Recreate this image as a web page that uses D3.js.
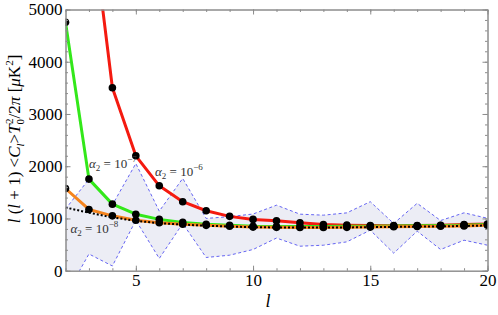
<!DOCTYPE html>
<html><head><meta charset="utf-8">
<script src="https://cdn.jsdelivr.net/npm/d3@7"></script>
<style>
html,body{margin:0;padding:0;background:#fff;}
svg{display:block;}
</style></head>
<body><svg id="c" width="498" height="315"></svg>
<script>
// multipoles
const ells = [2,3,4,5,6,7,8,9,10,11,12,13,14,15,16,17,18,19,20];
// alpha2 = 1e-6 (red)
const red = [16000,7150,3502,2199,1625,1321,1148,1040,982,954,916,885,872,865,862,865,870,882,892];
// alpha2 = 1e-7 (green)
const green = [4757,1753,1274,1082,982,925,890,868,852,847,845,846,849,853,857,861,866,872,882];
// alpha2 = 1e-8 (orange)
const orange = [1573,1172,1050,967,918,890,868,850,835,830,828,828,830,835,840,845,850,858,870];
// LCDM reference (black dotted)
const lcdm = [1210,1110,1020,955,910,882,862,845,832,828,826,826,828,833,838,843,849,856,866];
// error band (blue dashed)
const upper = [1180,1752,1260,2052,1140,1766,1000,1035,1085,1254,1082,1063,1107,1321,904,1290,960,1108,1003];
const lower = [-474,320,90,965,234,904,253,297,406,625,469,488,552,776,335,757,406,584,488];
// ticks
const xMajor = [5,10,15,20];
const xMinor = d3.range(2,21,1);
const yMajor = [0,1000,2000,3000,4000,5000];
const yMinor = d3.range(0,5001,200);

const FONT = '"Liberation Serif"';
const svg = d3.select("#c");
const L=65.5,R=487.5,T=9.5,B=270.7;
const x = d3.scaleLinear().domain([2,20]).range([L,R]);
const y = d3.scaleLinear().domain([0,5000]).range([B,T]);

svg.append("clipPath").attr("id","clip").append("rect")
  .attr("x",L).attr("y",T).attr("width",R-L).attr("height",B-T);

const g = svg.append("g").attr("clip-path","url(#clip)");
const idx = d3.range(ells.length);

g.append("path").datum(idx)
  .attr("d", d3.area().x(i=>x(ells[i])).y0(i=>y(lower[i])).y1(i=>y(upper[i])))
  .attr("fill","#ecedf5");

const line = arr => d3.line().x(i=>x(ells[i])).y(i=>y(arr[i]));
[upper,lower].forEach(a=>{
  g.append("path").datum(idx).attr("d",line(a))
   .attr("fill","none").attr("stroke","#6464f2").attr("stroke-width",1)
   .attr("stroke-dasharray","3,2.5");
});
[[red,"#f41a10"],[green,"#33e81a"],[orange,"#f5841f"]].forEach(([a,c])=>{
  g.append("path").datum(idx).attr("d",line(a))
   .attr("fill","none").attr("stroke",c).attr("stroke-width",3)
   .attr("stroke-linejoin","round");
});
g.append("path").datum(idx).attr("d",line(lcdm))
  .attr("fill","none").attr("stroke","#000").attr("stroke-width",2)
  .attr("stroke-dasharray","2,2");

[red,green,orange].forEach(a=>{
  g.selectAll(null).data(idx).enter().append("circle")
   .attr("cx",i=>x(ells[i])).attr("cy",i=>y(a[i])).attr("r",3.8).attr("fill","#000");
});

// frame axes
const fc = "#8c8c8c";
function ax(gen, tx, ty, vals, size, labels){
  const a = gen.tickValues(vals).tickSizeInner(-size).tickSizeOuter(0).tickPadding(3)
    .tickFormat(labels ? d3.format("d") : () => "");
  const s = svg.append("g").attr("transform",`translate(${tx},${ty})`).call(a);
  s.selectAll(".domain").attr("stroke",fc).attr("stroke-width",1);
  s.selectAll(".tick line").attr("stroke",fc);
  s.selectAll(".tick text").style("font-family",FONT).style("font-size","17px").attr("fill","#000");
  return s;
}
ax(d3.axisBottom(x), 0, B, xMinor, 2.5, false);
ax(d3.axisBottom(x), 0, B, xMajor, 5, true);
ax(d3.axisTop(x), 0, T, xMinor, 2.5, false);
ax(d3.axisTop(x), 0, T, xMajor, 5, false);
ax(d3.axisLeft(y), L, 0, yMinor, 2.5, false);
ax(d3.axisLeft(y), L, 0, yMajor, 5, true);
ax(d3.axisRight(y), R, 0, yMinor, 2.5, false);
ax(d3.axisRight(y), R, 0, yMajor, 5, false);

// annotations
function alphaLabel(px, py, exp){
  const t = svg.append("text").attr("x",px).attr("y",py).style("font-family",FONT)
    .style("font-size","13px").attr("fill","#333");
  t.append("tspan").attr("font-style","italic").text("α");
  t.append("tspan").style("font-size","9px").attr("dy",3).text("2");
  t.append("tspan").attr("dy",-3).text(" = 10");
  t.append("tspan").style("font-size","9px").attr("dy",-6).text("−"+exp);
}
alphaLabel(89,168,7);
alphaLabel(155,175.5,6);
alphaLabel(70.5,233,8);

// x label
svg.append("text").attr("x",268).attr("y",307).style("font-family",FONT).style("font-size","18px")
  .attr("font-style","italic").attr("text-anchor","middle").text("l");

// y label
const yl = svg.append("text").attr("transform","translate(20,139) rotate(-90)")
  .attr("text-anchor","middle").style("font-family",FONT).style("font-size","17px");
const sub = "11px";
yl.append("tspan").attr("font-style","italic").text("l");
yl.append("tspan").text(" (");
yl.append("tspan").attr("font-style","italic").text("l");
yl.append("tspan").text(" + 1) <");
yl.append("tspan").attr("font-style","italic").text("C");
yl.append("tspan").attr("font-style","italic").style("font-size",sub).attr("dy",4).text("l");
yl.append("tspan").attr("dy",-4).text(">");
yl.append("tspan").attr("font-style","italic").text("T");
yl.append("tspan").style("font-size",sub).attr("dy",4).text("0");
yl.append("tspan").style("font-size",sub).attr("dy",-11).attr("dx",-5).text("2");
yl.append("tspan").attr("dy",7).text("/2");
yl.append("tspan").attr("font-style","italic").text("π");
yl.append("tspan").text(" [");
yl.append("tspan").attr("font-style","italic").text("μ");
yl.append("tspan").text("K");
yl.append("tspan").style("font-size",sub).attr("dy",-7).text("2");
yl.append("tspan").attr("dy",7).text("]");
</script></body></html>
